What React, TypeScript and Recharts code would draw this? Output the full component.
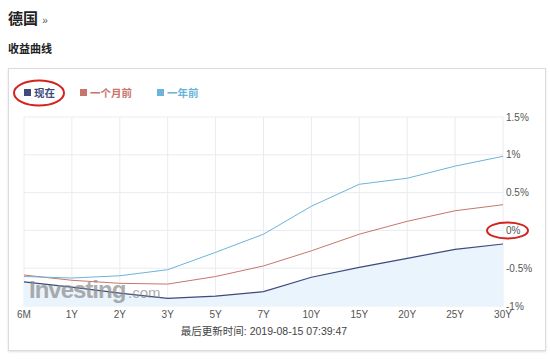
import React from 'react';
import { ComposedChart, Area, Line, XAxis, YAxis, CartesianGrid } from 'recharts';

const categories = ['6M', '1Y', '2Y', '3Y', '5Y', '7Y', '10Y', '15Y', '20Y', '25Y', '30Y'];
const nowYield = [-0.68, -0.75, -0.83, -0.9, -0.87, -0.81, -0.62, -0.49, -0.37, -0.25, -0.18];
const monthAgoYield = [-0.59, -0.66, -0.7, -0.71, -0.61, -0.47, -0.27, -0.05, 0.12, 0.26, 0.34];
const yearAgoYield = [-0.61, -0.63, -0.6, -0.52, -0.29, -0.05, 0.32, 0.61, 0.69, 0.85, 0.98];
const yTicks = [-1, -0.5, 0, 0.5, 1, 1.5];

const seriesNames = ['现在', '一个月前', '一年前'];
const seriesColors = ['#3d4a7b', '#c8756d', '#6cb4da'];

const data = categories.map((c, i) => ({
  cat: c,
  now: nowYield[i],
  month: monthAgoYield[i],
  year: yearAgoYield[i],
}));

const FONT = '"Liberation Sans", Arial, "Noto Sans CJK SC", sans-serif';

export default function App() {
  return (
    <div style={{ position: 'absolute', left: 0, top: 0, width: 550, height: 359, background: '#fff', fontFamily: FONT, overflow: 'hidden' }}>
      <div style={{ position: 'absolute', left: 8, top: 9, fontSize: 15, fontWeight: 'bold', color: '#222', lineHeight: '20px' }}>
        德国 <span style={{ fontSize: 10, fontWeight: 'normal', color: '#555' }}>»</span>
      </div>
      <div style={{ position: 'absolute', left: 8, top: 42, fontSize: 11, fontWeight: 'bold', color: '#222', lineHeight: '14px' }}>
        收益曲线
      </div>
      <div style={{ position: 'absolute', left: 8, top: 68, width: 536, height: 281, border: '1px solid #dcdcdc', boxShadow: '0 1px 2px rgba(0,0,0,0.12)' }} />
      <div style={{ position: 'absolute', left: 0, top: 0 }}>
        <ComposedChart width={550} height={359} data={data} margin={{ top: 117, right: 0, bottom: 33, left: 24 }}>
          <CartesianGrid stroke="#e8ecf1" strokeWidth={1} />
          <XAxis
            dataKey="cat"
            type="category"
            interval={0}
            axisLine={false}
            tickLine={false}
            tickSize={0}
            tickMargin={5}
            height={20}
            padding={{ left: 0, right: 0 }}
            scale="point"
            tick={{ fontSize: 10, fill: '#555', fontFamily: FONT }}
          />
          <YAxis
            orientation="right"
            domain={[-1, 1.5]}
            ticks={yTicks}
            axisLine={false}
            tickLine={false}
            tickSize={0}
            tickMargin={3}
            width={47}
            tickFormatter={(v: number) => `${v}%`}
            tick={{ fontSize: 10, fill: '#555', fontFamily: FONT, textAnchor: 'start' }}
          />
          <Area
            type="linear"
            dataKey="now"
            baseValue="dataMin"
            stroke={seriesColors[0]}
            strokeWidth={1.2}
            fill="#eaf4fc"
            fillOpacity={1}
            dot={false}
            activeDot={false}
            isAnimationActive={false}
          />
          <Line type="linear" dataKey="month" stroke={seriesColors[1]} strokeWidth={1} dot={false} activeDot={false} isAnimationActive={false} />
          <Line type="linear" dataKey="year" stroke={seriesColors[2]} strokeWidth={1} dot={false} activeDot={false} isAnimationActive={false} />
        </ComposedChart>
      </div>
      {/* legend */}
      {[0, 1, 2].map((i) => {
        const xs = [24, 80, 157];
        return (
          <div key={i} style={{ position: 'absolute', left: xs[i], top: 85, height: 14, display: 'flex', alignItems: 'center', fontSize: 10.5, fontWeight: 'bold', color: seriesColors[i], whiteSpace: 'nowrap' }}>
            <span style={{ display: 'inline-block', width: 7, height: 7, background: seriesColors[i], marginRight: 3 }} />
            {seriesNames[i]}
          </div>
        );
      })}
      {/* watermark and annotations */}
      <svg width={550} height={359} style={{ position: 'absolute', left: 0, top: 0, pointerEvents: 'none' }}>
        <g opacity={0.7} fill="#8c8c8c">
          <text x={29} y={298} fontSize={24} fontWeight="bold" fontFamily={FONT} letterSpacing={-1}>Investing</text>
          <text x={128} y={298} fontSize={15} fontFamily={FONT}>.com</text>
        </g>
        <ellipse cx={39} cy={93} rx={25} ry={12.5} fill="none" stroke="#d2231e" strokeWidth={2} />
        <ellipse cx={507.5} cy={230.5} rx={20.5} ry={8} fill="none" stroke="#d2231e" strokeWidth={2} />
      </svg>
      <div style={{ position: 'absolute', left: 0, width: 528, top: 325, textAlign: 'center', fontSize: 10.5, color: '#444', lineHeight: '13px' }}>
        最后更新时间: 2019-08-15 07:39:47
      </div>
    </div>
  );
}
